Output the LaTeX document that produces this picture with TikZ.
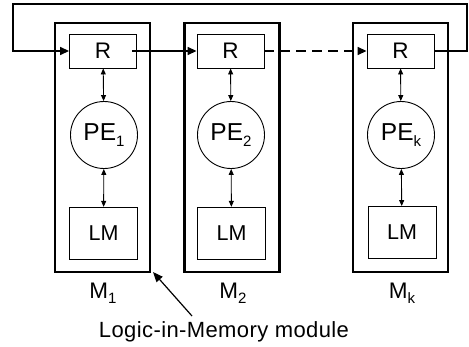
\documentclass[tikz,border=0pt]{standalone}
\usepackage{fontspec}
\setmainfont{Liberation Sans}
\usetikzlibrary{arrows.meta}
\newcommand{\subs}[1]{\raisebox{-5.5pt}{\fontsize{15}{15}\selectfont #1}}
\tikzset{
  modbox/.style={draw,line width=2.6pt,minimum width=95pt,minimum height=249pt,inner sep=0pt},
  rbox/.style={draw,line width=0.9pt,minimum width=67pt,minimum height=34pt,inner sep=0pt,font=\fontsize{22.5}{22.5}\selectfont},
  lmbox/.style={draw,line width=0.9pt,minimum width=68pt,minimum height=52pt,inner sep=0pt,font=\fontsize{21.5}{21.5}\selectfont},
  pecirc/.style={draw,circle,line width=0.9pt,minimum size=67pt,inner sep=0pt,font=\fontsize{24.5}{24.5}\selectfont},
  mlabel/.style={font=\fontsize{22.5}{22.5}\selectfont,inner sep=0pt},
  thinarrow/.style={line width=0.9pt,{Triangle[length=6pt,width=5pt]}-{Triangle[length=6pt,width=5pt]}},
  flow/.style={line width=1.5pt,-{Triangle[length=9pt,width=8pt]}},
}
\begin{document}
\begin{tikzpicture}[x=1pt,y=-1pt]
\useasboundingbox (0,0) rectangle (469,346);
% modules
\node[modbox] (B1) at (102.5,147.5) {};
\node[modbox] (B2) at (232,147.5) {};
\node[modbox] (Bk) at (400.5,147.5) {};
% R boxes
\node[rbox] (R1) at (103,51) {R};
\node[rbox] (R2) at (230.5,51) {R};
\node[rbox] (Rk) at (400.5,51) {R};
% PE circles
\node[pecirc] (P1) at (104,135) {PE\subs{1}};
\node[pecirc] (P2) at (231,135) {PE\subs{2}};
\node[pecirc] (Pk) at (401,135) {PE\subs{k}};
% LM boxes
\node[lmbox] (L1) at (103.5,233.3) {LM};
\node[lmbox] (L2) at (231.5,233.3) {LM};
\node[lmbox] (Lk) at (402,232.5) {LM};
% inner arrows
\foreach \i in {1,2,k}{
  \draw[thinarrow] (R\i) -- (P\i);
  \draw[thinarrow] (P\i) -- (L\i);
}
% flow between R
\draw[flow] ([xshift=-5pt]R1.east) -- (R2.west);
\draw[flow,dash pattern=on 10pt off 6pt] (R2.east) -- (Rk.west);
\coordinate (tr) at (467,4);
\coordinate (tl) at (13,4);
\draw[flow] (Rk.east) -| (tr) -- (tl) |- (R1.west);
% labels
\node[mlabel,anchor=base] (m1) at (103,298) {M\subs{1}};
\node[mlabel,anchor=base] (m2) at (233,298) {M\subs{2}};
\node[mlabel,anchor=base] (mk) at (402,298) {M\subs{k}};
\node[mlabel,anchor=base,font=\fontsize{22}{22}\selectfont\addfontfeature{LetterSpace=1.8}] (lim) at (224,337) {Logic-in-Memory module};
\coordinate (st) at (192,316);
\coordinate (tip) at (153,272);
\draw[line width=1.2pt,-{Triangle[length=10pt,width=8pt]}] (st) -- (tip);
\end{tikzpicture}
\end{document}
